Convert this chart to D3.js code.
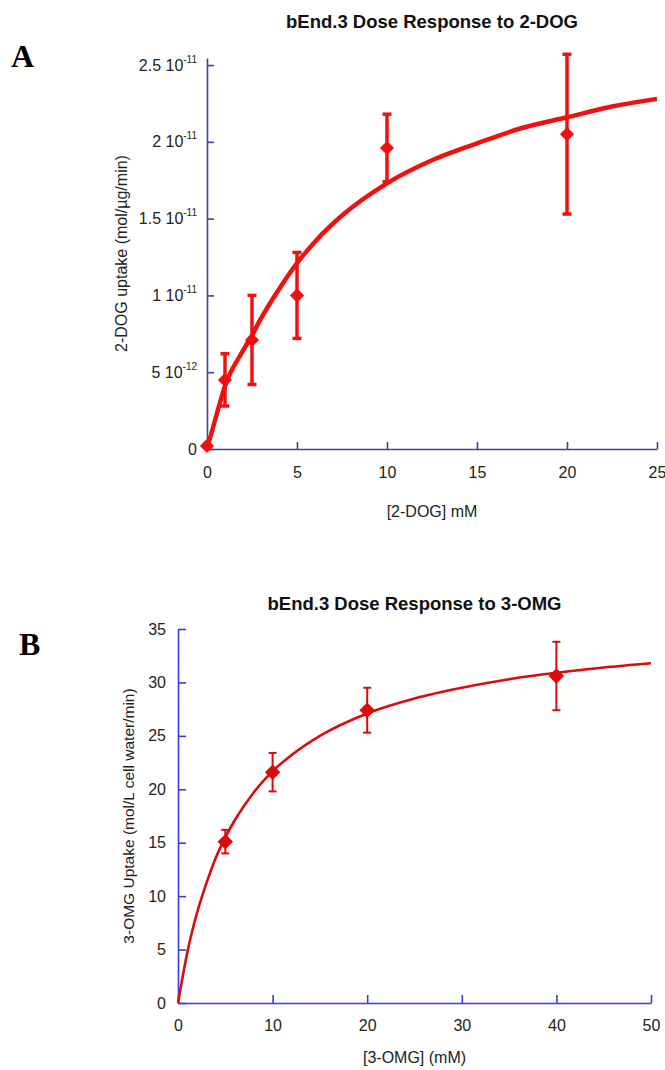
<!DOCTYPE html>
<html>
<head>
<meta charset="utf-8">
<script src="https://cdn.jsdelivr.net/npm/d3@7"></script>
<style>
  body { margin: 0; background: #fff; }
  svg { display: block; }
</style>
</head>
<body>
<svg id="fig" width="665" height="1070"></svg>
<script>
// ---- panel A : 2-DOG (values in units of 10^-11 mol/ug/min)
const doseA = [0, 1, 2.5, 5, 10, 20];
const uptakeA = [0.02, 0.45, 0.71, 1.00, 1.96, 2.05];
const errA = [0, 0.17, 0.29, 0.28, 0.22, 0.52];
const fitDoseA = [0, 0.5, 1, 2, 2.5, 3, 4, 5, 6, 7.5, 10, 12.5, 15, 17.5, 20, 22.5, 25];
const fitUptakeA = [0, 0.21, 0.41, 0.64, 0.74, 0.85, 1.04, 1.21, 1.35, 1.52, 1.73, 1.88, 1.99, 2.09, 2.16, 2.23, 2.28];
const xTicksA = [0, 5, 10, 15, 20, 25];
const yTicksA = [0, 0.5, 1, 1.5, 2, 2.5];
const yTickMainA = ["0", "5 10", "1 10", "1.5 10", "2 10", "2.5 10"];
const yTickSupA = ["", "-12", "-11", "-11", "-11", "-11"];

// ---- panel B : 3-OMG
const doseB = [5, 10, 20, 40];
const uptakeB = [15.1, 21.6, 27.4, 30.6];
const errB = [1.1, 1.8, 2.1, 3.2];
const fitDoseB = [0, 0.5, 1, 2, 3, 4, 5, 6, 8, 10, 12, 15, 20, 25, 30, 35, 40, 45, 50];
const fitUptakeB = [0, 2.5, 4.8, 8.4, 11.2, 13.6, 15.5, 17.1, 19.7, 21.7, 23.2, 25.0, 27.1, 28.5, 29.5, 30.3, 30.9, 31.4, 31.8];
const xTicksB = [0, 10, 20, 30, 40, 50];
const yTicksB = [0, 5, 10, 15, 20, 25, 30, 35];

const svg = d3.select("#fig");

function panel(o) {
  const x = d3.scaleLinear().domain(o.xDomain).range([o.left, o.right]);
  const y = d3.scaleLinear().domain(o.yDomain).range([o.bottom, o.top]);
  const g = svg.append("g");

  // panel letter
  g.append("text")
    .attr("x", o.letterX).attr("y", o.letterY)
    .attr("font-family", "Liberation Serif, Times New Roman, serif")
    .attr("font-weight", "bold").attr("font-size", 32)
    .attr("fill", "#000").text(o.letter);

  // title
  g.append("text")
    .attr("x", (o.left + o.right) / 2).attr("y", o.titleY)
    .attr("text-anchor", "middle")
    .attr("font-family", "Liberation Sans, Arial, sans-serif")
    .attr("font-weight", "bold").attr("font-size", 18.5)
    .attr("fill", "#111").text(o.title);

  // axes, ticks point inward
  const gx = g.append("g")
    .attr("transform", `translate(0,${o.bottom})`)
    .call(d3.axisBottom(x).tickValues(o.xTicks).tickSize(-o.tick).tickSizeOuter(0).tickPadding(o.xPad));
  const gy = g.append("g")
    .attr("transform", `translate(${o.left},0)`)
    .call(d3.axisLeft(y).tickValues(o.yTicks).tickSize(-o.tick).tickSizeOuter(0).tickPadding(o.yPad));

  [gx, gy].forEach(a => {
    a.select(".domain").attr("stroke", o.axisColor).attr("stroke-width", 1.6);
    a.selectAll(".tick line").attr("stroke", o.axisColor).attr("stroke-width", 1.6);
    a.selectAll("text")
      .attr("font-family", "Liberation Sans, Arial, sans-serif")
      .attr("font-size", 16).attr("fill", "#222");
  });

  if (o.yMain) {
    gy.selectAll(".tick text").each(function (d, i) {
      const t = d3.select(this).text("");
      t.append("tspan").text(o.yMain[i]);
      if (o.ySup[i]) t.append("tspan").attr("font-size", 10).attr("dy", "-0.8em").text(o.ySup[i]);
    });
  }

  // axis titles
  g.append("text")
    .attr("transform", `translate(${o.yLabelX},${(o.top + o.bottom) / 2}) rotate(-90)`)
    .attr("text-anchor", "middle")
    .attr("font-family", "Liberation Sans, Arial, sans-serif")
    .attr("font-size", o.yLabelSize).attr("fill", "#222").text(o.yLabel);
  g.append("text")
    .attr("x", (o.left + o.right) / 2).attr("y", o.xLabelY)
    .attr("text-anchor", "middle")
    .attr("font-family", "Liberation Sans, Arial, sans-serif")
    .attr("font-size", 16).attr("fill", "#222").text(o.xLabel);

  // fitted curve
  const line = d3.line().x(d => x(d[0])).y(d => y(d[1])).curve(d3.curveMonotoneX);
  g.append("path")
    .attr("d", line(d3.zip(o.fitX, o.fitY)))
    .attr("fill", "none").attr("stroke", o.color)
    .attr("stroke-width", o.lineW).attr("stroke-linejoin", "round");

  // error bars
  const pts = d3.zip(o.dose, o.uptake, o.err);
  const eb = g.append("g").attr("stroke", o.color).attr("stroke-width", o.barW);
  pts.filter(p => p[2] > 0).forEach(p => {
    const cx = x(p[0]);
    eb.append("line").attr("x1", cx).attr("x2", cx).attr("y1", y(p[1] - p[2])).attr("y2", y(p[1] + p[2]));
    eb.append("line").attr("x1", cx - o.cap).attr("x2", cx + o.cap).attr("y1", y(p[1] + p[2])).attr("y2", y(p[1] + p[2]));
    eb.append("line").attr("x1", cx - o.cap).attr("x2", cx + o.cap).attr("y1", y(p[1] - p[2])).attr("y2", y(p[1] - p[2]));
  });

  // diamond markers
  const diamond = d3.symbol(d3.symbolSquare, o.markSize);
  g.append("g").selectAll("path").data(pts).join("path")
    .attr("transform", p => `translate(${x(p[0])},${y(p[1])}) rotate(45)`)
    .attr("d", diamond).attr("fill", o.color);
}

panel({
  letter: "A", letterX: 11, letterY: 67,
  title: "bEnd.3 Dose Response to 2-DOG", titleY: 28,
  left: 207, right: 657, top: 58, bottom: 449,
  xDomain: [0, 25], yDomain: [0, 2.546],
  xTicks: xTicksA, yTicks: yTicksA, yMain: yTickMainA, ySup: yTickSupA,
  tick: 7, xPad: 18, yPad: 10,
  axisColor: "#40409a",
  yLabel: "2-DOG uptake (mol/\u00b5g/min)", yLabelX: 127, yLabelSize: 16,
  xLabel: "[2-DOG] mM", xLabelY: 517,
  fitX: fitDoseA, fitY: fitUptakeA,
  dose: doseA, uptake: uptakeA, err: errA,
  color: "#f01010", lineW: 4.5, barW: 3.5, cap: 4.5, markSize: 100
});

panel({
  letter: "B", letterX: 19, letterY: 655,
  title: "bEnd.3 Dose Response to 3-OMG", titleY: 610,
  left: 178, right: 651, top: 629, bottom: 1003,
  xDomain: [0, 50], yDomain: [0, 35],
  xTicks: xTicksB, yTicks: yTicksB,
  tick: 8, xPad: 17, yPad: 12,
  axisColor: "#3a3ae8",
  yLabel: "3-OMG Uptake (mol/L cell water/min)", yLabelX: 134, yLabelSize: 15.5,
  xLabel: "[3-OMG] (mM)", xLabelY: 1063,
  fitX: fitDoseB, fitY: fitUptakeB,
  dose: doseB, uptake: uptakeB, err: errB,
  color: "#dd0a0a", lineW: 2.6, barW: 2, cap: 4, markSize: 120
});
</script>
</body>
</html>
